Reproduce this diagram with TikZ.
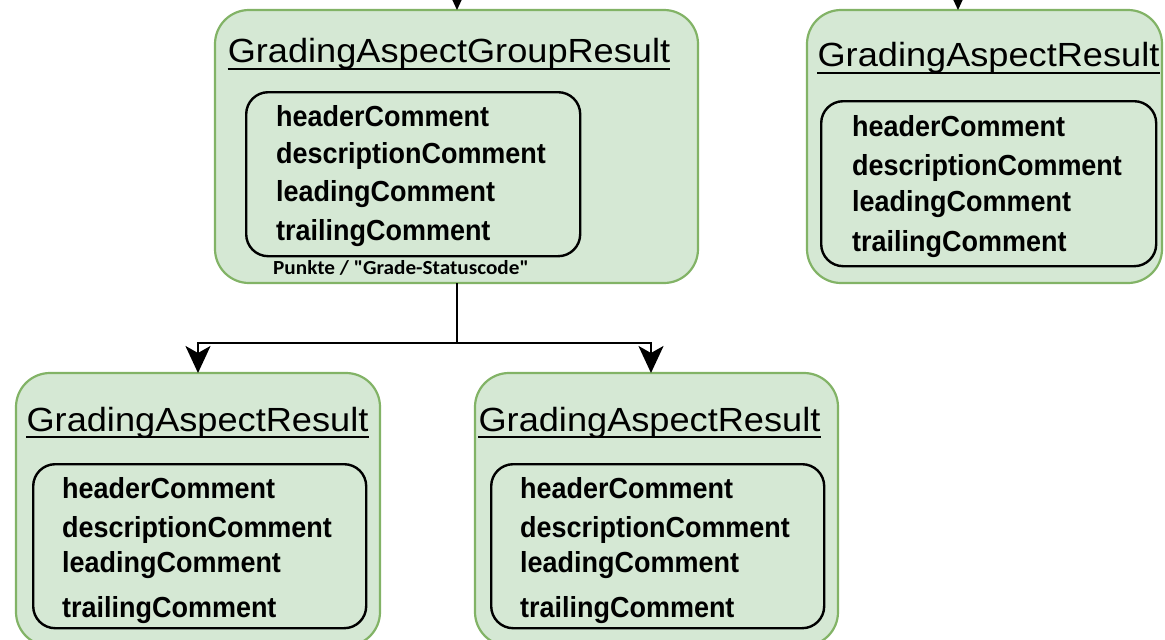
\documentclass[tikz,border=0pt]{standalone}
\usepackage{fontspec}
\usetikzlibrary{arrows.meta,calc}

% fonts: light sans titles, bold sans fields, small bold note
\newfontfamily\titlefont[FakeStretch=1.08]{Liberation Sans}
\newfontfamily\fieldfont[FakeStretch=0.93]{Liberation Sans}
\newfontfamily\notefont[FakeStretch=1.06]{Carlito}

\definecolor{boxfill}{HTML}{D5E8D4}
\definecolor{boxline}{HTML}{82B366}

\tikzset{
  entitybox/.style={draw=boxline, fill=boxfill, line width=2.2pt, rounded corners=34pt,
                    anchor=north west, inner sep=0pt, outer sep=0pt},
  slotbox/.style={draw=black, line width=2.4pt, rounded corners=22pt,
                  anchor=north west, inner sep=0pt},
  entitytitle/.style={font=\titlefont\fontsize{33.5}{40}\selectfont, anchor=base, inner sep=0pt},
  titlerule/.style={line width=2pt},
  fieldtext/.style={font=\fieldfont\bfseries\fontsize{29}{34}\selectfont, anchor=base west, inner sep=0pt},
  notetext/.style={font=\notefont\bfseries\fontsize{20}{24}\selectfont, anchor=base west, inner sep=0pt},
  link/.style={line width=2.4pt, -{Stealth[length=27pt,width=25pt,inset=7pt]}},
}

\begin{document}
\begin{tikzpicture}[x=1pt, y=-1pt]
\useasboundingbox (0,0) rectangle (1165,640);
\clip (0,0) rectangle (1165,640);

% ---- outer result boxes ----
\node[entitybox, minimum width=483pt, minimum height=273pt] (G) at (215,10) {};
\node[entitybox, minimum width=355pt, minimum height=273pt] (R) at (807,10) {};
\node[entitybox, minimum width=364pt, minimum height=273pt] (A) at (16,373) {};
\node[entitybox, minimum width=363pt, minimum height=273pt] (B) at (475,373) {};

% ---- comment containers ----
\node[slotbox, minimum width=334pt, minimum height=164pt] (Gi) at (245,91) {};
\node[slotbox, minimum width=335pt, minimum height=165pt] (Ri) at (820,100) {};
\node[slotbox, minimum width=333pt, minimum height=164pt] (Ai) at (32,463) {};
\node[slotbox, minimum width=333pt, minimum height=164pt] (Bi) at (490,463) {};

% ---- titles with underline ----
\node[entitytitle] (Gt) at (449,62.5) {GradingAspectGroupResult};
\node[entitytitle] (Rt) at (988.5,66.7) {GradingAspectResult};
\node[entitytitle] (At) at (197.5,431) {GradingAspectResult};
\node[entitytitle] (Bt) at (649.5,431) {GradingAspectResult};
\foreach \t in {Gt,Rt,At,Bt}
  \draw[titlerule] ([yshift=-6pt]\t.base west) -- ([yshift=-6pt]\t.base east);

% ---- comment fields ----
\node[fieldtext] (G1) at (276,126.7) {headerComment};
\node[fieldtext] (G2) at (276,163.3) {descriptionComment};
\node[fieldtext] (G3) at (276,201.7) {leadingComment};
\node[fieldtext] (G4) at (276,240) {trailingComment};

\node[fieldtext] (R1) at (852,136.7) {headerComment};
\node[fieldtext] (R2) at (852,175) {descriptionComment};
\node[fieldtext] (R3) at (852,211.7) {leadingComment};
\node[fieldtext] (R4) at (852,251.7) {trailingComment};

\node[fieldtext] (A1) at (62,498) {headerComment};
\node[fieldtext] (A2) at (62,537) {descriptionComment};
\node[fieldtext] (A3) at (62,572) {leadingComment};
\node[fieldtext] (A4) at (62,617) {trailingComment};

\node[fieldtext] (B1) at (520,498) {headerComment};
\node[fieldtext] (B2) at (520,537) {descriptionComment};
\node[fieldtext] (B3) at (520,572) {leadingComment};
\node[fieldtext] (B4) at (520,617) {trailingComment};

\node[notetext] (Gn) at (273,274) {Punkte / "Grade-Statuscode"};

% ---- connectors ----
\coordinate (inG) at (457,-60);
\coordinate (inR) at (958,-60);
\coordinate (split) at (457,343);
\draw[link] (inG) -- (inG |- G.north);
\draw[link] (inR) -- (inR |- R.north);
\draw[line width=2.4pt] (inG |- G.south) -- (split);
\draw[link] (split) -| (A.north);
\draw[link] (split) -| ([xshift=-5.5pt]B.north);
\end{tikzpicture}
\end{document}
